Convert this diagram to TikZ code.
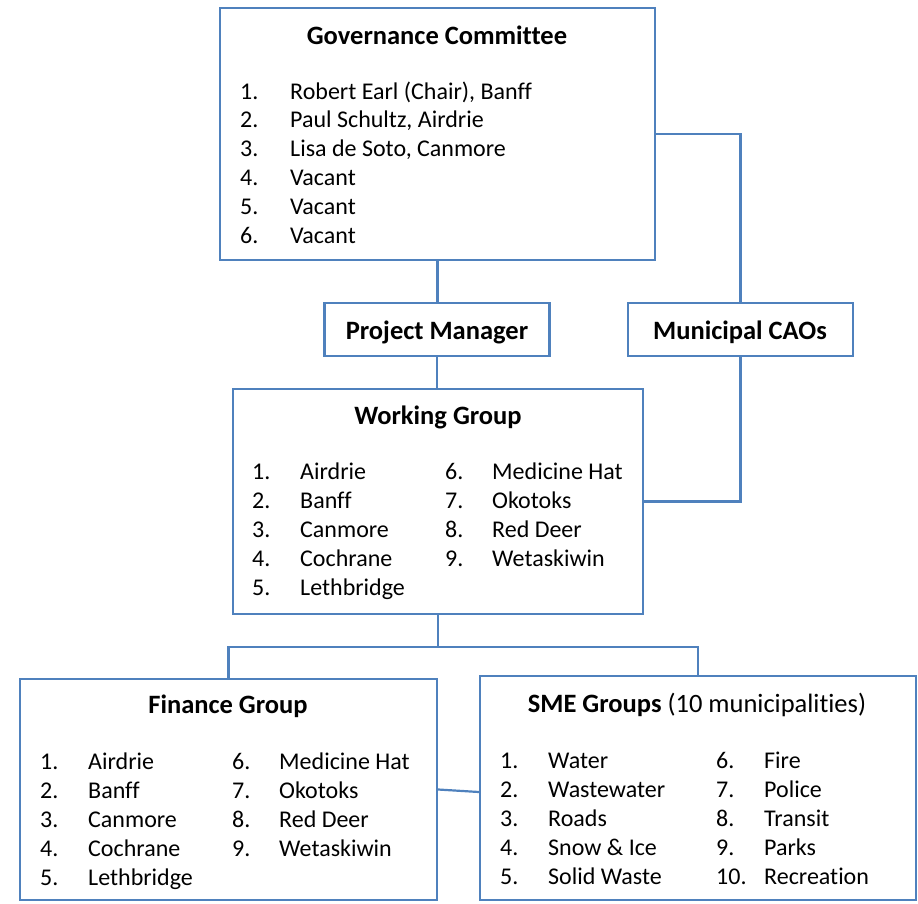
\documentclass[tikz,border=0pt]{standalone}
\usepackage{fontspec}
\setmainfont{Carlito}[Ligatures=NoCommon]
\definecolor{ln}{RGB}{79,129,189}
\begin{document}
\begin{tikzpicture}[x=1pt,y=-1pt,
 box/.style={draw=ln, line width=2.2pt, rectangle, inner sep=0pt},
 conn/.style={draw=ln, line width=2.2pt},
 txt/.style={inner sep=0pt, anchor=base west, font=\fontsize{24}{29}\selectfont},
 ttl/.style={inner sep=0pt, anchor=base, font=\fontsize{26.5}{32}\selectfont\bfseries},
 sub/.style={inner sep=0pt, anchor=base, font=\fontsize{26.5}{32}\selectfont}]
\useasboundingbox (0,0) rectangle (918,903);
% boxes
\node[box, minimum width=435pt, minimum height=252pt] (gov) at (437.5,134) {};
\node[box, minimum width=225pt, minimum height=53pt] (pm) at (437,329.5) {};
\node[box, minimum width=225pt, minimum height=53pt] (cao) at (740.5,329.5) {};
\node[box, minimum width=410pt, minimum height=225pt] (wg) at (438,501.5) {};
\node[box, minimum width=417pt, minimum height=221pt] (fin) at (228.5,789.5) {};
\node[box, minimum width=436pt, minimum height=224pt] (sme) at (698,788) {};
\coordinate (split) at (438,647);
% connectors
\draw[conn] (gov.south) -- (gov.south |- pm.north);
\draw[conn] (pm.south) -- (pm.south |- wg.north);
\draw[conn] (gov.east) -| (cao.north);
\draw[conn] (cao.south) |- (wg.east);
\draw[conn] (wg.south) -- (split);
\draw[conn] (fin.north) |- (split) -| (sme.north);
\draw[conn] (fin.east) -- ([yshift=-4pt]sme.west);
% titles
\node[ttl] (govt) at (437,44.5) {Governance Committee};
\node[ttl] (pmt) at (437,339.5) {Project Manager};
\node[ttl] (caot) at (740,339.5) {Municipal CAOs};
\node[ttl] (wgt) at (438,424.5) {Working Group};
\node[ttl] (fint) at (228,713.5) {Finance Group};
\node[sub] (smet) at (697,712.5) {\textbf{SME Groups} (10 municipalities)};
% governance list
\foreach \n/\t [count=\i] in {1./{Robert Earl (Chair), Banff},2./{Paul Schultz, Airdrie},3./{Lisa de Soto, Canmore},4./Vacant,5./Vacant,6./Vacant}{
  \node[txt] (gn\i) at (240,{99+28.8*(\i-1)}) {\n};
  \node[txt] (gt\i) at (290,{99+28.8*(\i-1)}) {\t};
}
% working group list
\foreach \n/\t [count=\i] in {1./Airdrie,2./Banff,3./Canmore,4./Cochrane,5./Lethbridge}{
  \node[txt] (wln\i) at (252,{479+29*(\i-1)}) {\n};
  \node[txt] (wlt\i) at (300,{479+29*(\i-1)}) {\t};
}
\foreach \n/\t [count=\i] in {6./Medicine Hat,7./Okotoks,8./Red Deer,9./Wetaskiwin}{
  \node[txt] (wrn\i) at (445,{479+29*(\i-1)}) {\n};
  \node[txt] (wrt\i) at (492,{479+29*(\i-1)}) {\t};
}
% finance list
\foreach \n/\t [count=\i] in {1./Airdrie,2./Banff,3./Canmore,4./Cochrane,5./Lethbridge}{
  \node[txt] (fln\i) at (40,{769+29*(\i-1)}) {\n};
  \node[txt] (flt\i) at (88,{769+29*(\i-1)}) {\t};
}
\foreach \n/\t [count=\i] in {6./Medicine Hat,7./Okotoks,8./Red Deer,9./Wetaskiwin}{
  \node[txt] (frn\i) at (232,{769+29*(\i-1)}) {\n};
  \node[txt] (frt\i) at (279,{769+29*(\i-1)}) {\t};
}
% SME list
\foreach \n/\t [count=\i] in {1./Water,2./Wastewater,3./Roads,4./Snow \& Ice,5./Solid Waste}{
  \node[txt] (sln\i) at (500,{768+29*(\i-1)}) {\n};
  \node[txt] (slt\i) at (548,{768+29*(\i-1)}) {\t};
}
\foreach \n/\t [count=\i] in {6./Fire,7./Police,8./Transit,9./Parks,10./Recreation}{
  \node[txt] (srn\i) at (716,{768+29*(\i-1)}) {\n};
  \node[txt] (srt\i) at (764,{768+29*(\i-1)}) {\t};
}
\end{tikzpicture}
\end{document}
